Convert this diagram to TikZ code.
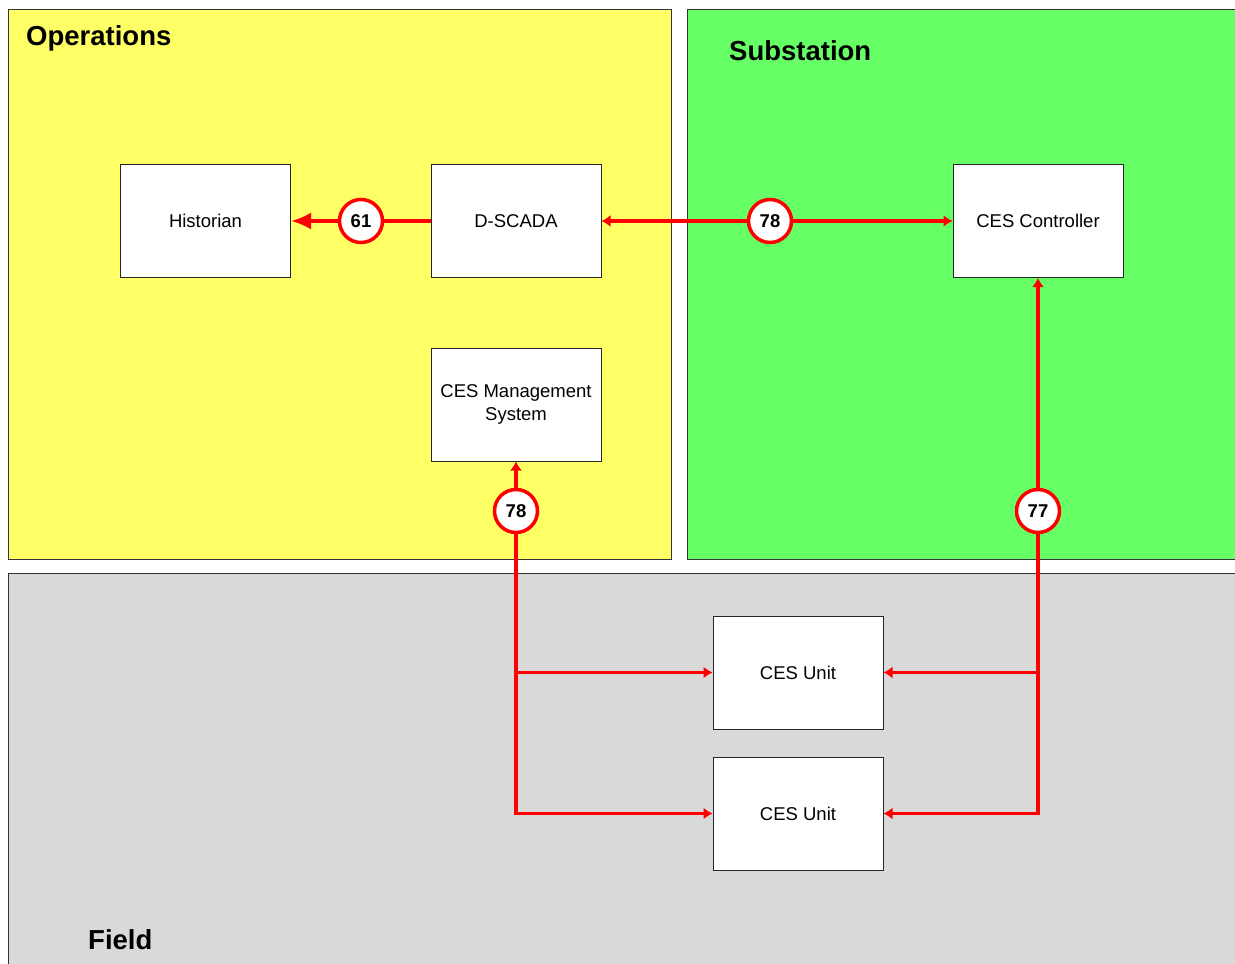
\documentclass[tikz,border=0pt]{standalone}
\usepackage{fontspec}
\setmainfont{Liberation Sans}
\usetikzlibrary{arrows.meta}
\definecolor{opyellow}{HTML}{FFFF66}
\definecolor{subgreen}{HTML}{66FF66}
\definecolor{fieldgray}{HTML}{D9D9D9}
\definecolor{linkred}{HTML}{FF0000}
\tikzset{
  region/.style={draw=black!80, line width=1pt},
  zonetitle/.style={anchor=base west, font=\fontsize{27.5}{30}\selectfont\bfseries, inner sep=0pt},
  box/.style={draw=black!85, fill=white, line width=1pt, minimum width=170pt, minimum height=113pt, inner sep=2pt, align=center, font=\fontsize{18.5}{23}\selectfont},
  iface/.style={circle, draw=linkred, fill=white, line width=3.5pt, minimum size=43pt, inner sep=0pt, font=\fontsize{18.5}{20}\selectfont\bfseries},
  link/.style={draw=linkred, line width=3.2pt},
  small/.style={-{Latex[length=9pt,width=12pt]}},
  big/.style={-{Latex[length=20pt,width=17pt]}},
}
\begin{document}
\begin{tikzpicture}[x=1pt,y=-1pt]
\useasboundingbox (0,0) rectangle (1235,964);
% regions
\path[region, fill=opyellow] (8,9) rectangle (671,559);
\path[region, fill=subgreen] (687,9) rectangle (1240,559);
\path[region, fill=fieldgray] (8,573) rectangle (1240,970);
\node[zonetitle] (tops) at (26,45) {Operations};
\node[zonetitle] (tsub) at (729,60) {Substation};
\node[zonetitle] (tfield) at (88,949) {Field};
% boxes
\node[box] (hist) at (205.5,221) {Historian};
\node[box] (dscada) at (516,221) {D-SCADA};
\node[box] (ctrl) at (1038,221) {CES Controller};
\node[box] (mgmt) at (516,404.5) {CES Management\\System};
\node[box] (unit1) at (798,672.5) {CES Unit};
\node[box] (unit2) at (798,813.5) {CES Unit};
% interface circles
\node[iface] (c61) at (361,221) {61};
\node[iface] (c78a) at (770,221) {78};
\node[iface] (c78b) at (516,511) {78};
\node[iface] (c77) at (1038,511) {77};
% links
\draw[link] (dscada.west) -- (c61.east);
\draw[link, big] (c61.west) -- (hist.east);
\draw[link, small] (c78a.west) -- (dscada.east);
\draw[link, small] (c78a.east) -- (ctrl.west);
\draw[link, small] (c78b.north) -- (mgmt.south);
\draw[link, small] (c77.north) -- (ctrl.south);
\coordinate (jl) at (c78b.south |- unit1.west);
\coordinate (jr) at (c77.south |- unit1.east);
\draw[link, small] (c78b.south) |- (unit2.west);
\draw[link, small] (jl) -- (unit1.west);
\draw[link, small] (c77.south) |- (unit2.east);
\draw[link, small] (jr) -- (unit1.east);
\end{tikzpicture}
\end{document}
